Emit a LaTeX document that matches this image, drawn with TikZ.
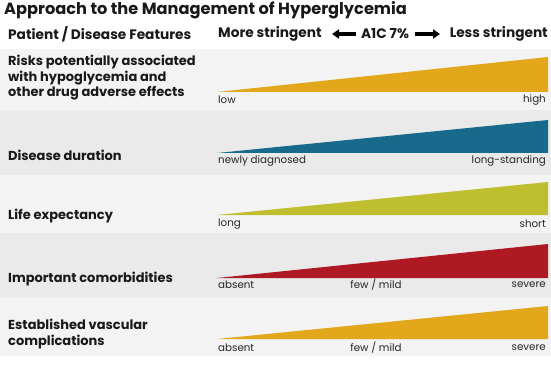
\documentclass[tikz,border=0pt]{standalone}
\usepackage{fontspec}
\setmainfont{Poppins}
\usetikzlibrary{arrows.meta}
\begin{document}
\begin{tikzpicture}[x=1pt,y=-1pt,
  feat/.style={anchor=west,font=\bfseries\fontsize{13}{15.5}\selectfont,align=left,inner sep=0pt,text=black!90},
  lab/.style={font=\fontsize{10.3}{11}\selectfont,inner sep=0pt,text=black!85},
  hdr/.style={font=\bfseries\fontsize{13.7}{15}\selectfont,inner sep=0pt,text=black!90},
  arr/.style={line width=3.2pt,-{Triangle[length=7pt,width=9pt]}}]
\definecolor{bandA}{HTML}{F3F3F3}
\definecolor{bandB}{HTML}{EAEAEA}
\definecolor{cgold}{HTML}{E2A71A}
\definecolor{cblue}{HTML}{186A8D}
\definecolor{colive}{HTML}{BEBE2E}
\definecolor{cred}{HTML}{AF1924}
\useasboundingbox (0,0) rectangle (551,366);
\fill[white] (0,0) rectangle (551,366);
% bands
\fill[bandA] (0,49) rectangle (551,110);
\fill[bandB] (0,110) rectangle (551,175);
\fill[bandA] (0,175) rectangle (551,233);
\fill[bandB] (0,233) rectangle (551,298);
\fill[bandA] (0,298) rectangle (551,356);
% title and header
\node[anchor=base west,inner sep=0pt,font=\bfseries\fontsize{16.2}{18}\selectfont,text=black!90] (title) at (4,15) {Approach to the Management of Hyperglycemia};
\node[hdr,anchor=west] (h1) at (8,34) {Patient / Disease Features};
\node[hdr,anchor=west] (h2) at (218,34) {More stringent};
\node[hdr] (h3) at (385,34) {A1C 7\%};
\node[hdr,anchor=east] (h4) at (548,34) {Less stringent};
\coordinate (lstart) at (356,34);
\coordinate (lend) at (332,34);
\coordinate (rstart) at (415,34);
\coordinate (rend) at (440,34);
\draw[arr] (lstart) -- (lend);
\draw[arr] (rstart) -- (rend);
% features
\node[feat] (f1) at (8,78) {Risks potentially associated\\with hypoglycemia and\\other drug adverse effects};
\node[feat] (f2) at (8,155) {Disease duration};
\node[feat] (f3) at (8,216) {Life expectancy};
\node[feat] (f4) at (8,279) {Important comorbidities};
\node[feat] (f5) at (8,334) {Established vascular\\complications};
% wedges
\fill[cgold] (217,92) -- (548,92) -- (548,57) -- cycle;
\fill[cblue] (217,153) -- (548,153) -- (548,120) -- cycle;
\fill[colive] (217,215) -- (548,215) -- (548,182) -- cycle;
\fill[cred] (217,278) -- (548,278) -- (548,244) -- cycle;
\fill[cgold] (217,339) -- (548,339) -- (548,306) -- cycle;
% labels
\node[lab,anchor=west] (l1a) at (218,100) {low};
\node[lab,anchor=east] (l1b) at (546,100) {high};
\node[lab,anchor=west] (l2a) at (218,161) {newly diagnosed};
\node[lab,anchor=east] (l2b) at (546,161) {long-standing};
\node[lab,anchor=west] (l3a) at (218,224) {long};
\node[lab,anchor=east] (l3b) at (546,224) {short};
\node[lab,anchor=west] (l4a) at (218,285) {absent};
\node[lab] (l4m) at (376,285) {few / mild};
\node[lab,anchor=east] (l4b) at (546,285) {severe};
\node[lab,anchor=west] (l5a) at (218,348) {absent};
\node[lab] (l5m) at (376,348) {few / mild};
\node[lab,anchor=east] (l5b) at (546,348) {severe};
\end{tikzpicture}
\end{document}
